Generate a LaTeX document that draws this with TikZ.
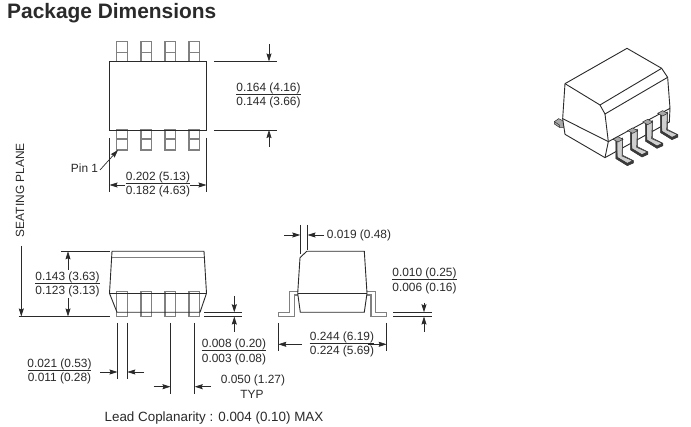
\documentclass[tikz,border=0pt]{standalone}
\usepackage{fontspec}
\setmainfont{Liberation Sans}
\usetikzlibrary{arrows.meta}
\definecolor{ink}{HTML}{2A2A2A}
\definecolor{pingray}{HTML}{808080}
\definecolor{leadgray}{HTML}{A8A8A8}
\definecolor{leadlight}{HTML}{CFCFCF}
\definecolor{leaddark}{HTML}{3A3A3A}
\tikzset{
  dimtxt/.style={text=ink,font=\fontsize{11.9}{12}\selectfont,inner sep=0pt,anchor=center,yshift=-0.7pt},
  dimline/.style={ink,line width=0.7pt},
  dimarrow/.style={ink,line width=0.7pt,-{Stealth[length=8pt,width=5pt,inset=1pt]}},
  bodyline/.style={ink,line width=0.9pt},
  pinline/.style={pingray,line width=1.1pt},
  lead3d/.style={ink,line width=0.5pt},
}
\newcommand{\dimfrac}[6]{% name,cx,ytop,ybot,text1,text2
  \node[dimtxt] (#1a) at (#2,#3) {#5};
  \node[dimtxt] (#1b) at (#2,#4) {#6};
  \draw[dimline] (#1b.north west |- 0,{#3+6.3}) -- (#1b.north east |- 0,{#3+6.3});
}
\begin{document}
\begin{tikzpicture}[x=1pt,y=-1pt]
\useasboundingbox (0,0) rectangle (691,427);
\fill[white] (0,0) rectangle (691,427);
\node[anchor=west,inner sep=0pt,text=ink,font=\bfseries\fontsize{20.9}{22}\selectfont] (title) at (7,13) {Package Dimensions};

% ---- top view
\foreach \x in {116.7,141,165,189}{
  \draw[pinline] (\x,41.7) rectangle (\x+10.6,61.5);
  \draw[pinline] (\x,52.7) -- (\x+10.6,52.7);
  \draw[pinline] (\x,130) rectangle (\x+10.6,150);
  \draw[pinline] (\x,139) -- (\x+10.6,139);
}
\draw[bodyline] (109.5,61.5) rectangle (206.5,130);
\draw[dimline] (214,61.5) -- (277,61.5);
\draw[dimline] (214,130) -- (277,130);
\draw[dimarrow] (269,44) -- (269,61.5);
\draw[dimarrow] (269,147) -- (269,130);
\dimfrac{a}{268.5}{88}{102}{0.164 (4.16)}{0.144 (3.66)}
\node[dimtxt] (pinone) at (84.5,167) {Pin 1};
\draw[dimarrow] (100,170) -- (118,150);
\draw[dimline] (109.5,138) -- (109.5,192);
\draw[dimline] (206.5,138) -- (206.5,192);
\draw[dimarrow] (125,185) -- (109.5,185);
\draw[dimarrow] (190,185) -- (206.5,185);
\dimfrac{b}{158}{177}{191}{0.202 (5.13)}{0.182 (4.63)}
\node[dimtxt,rotate=90] (seat) at (20,189.5) {SEATING PLANE};

% ---- front view
\foreach \x in {116.7,141,165,189}{
  \draw[pinline] (\x,291.7) rectangle (\x+10.6,316.3);
}
\draw[bodyline] (112,251.3) -- (204,251.3) -- (206.5,293.3) -- (200,312.3) -- (117,312.3) -- (109.5,293.3) -- cycle;
\draw[bodyline] (109.5,293.3) -- (206.5,293.3);
\draw[pingray,line width=1.6pt] (112,257.7) -- (204,257.7);
\draw[dimline] (61,251.3) -- (110,251.3);
\draw[dimline] (18.5,316.5) -- (110,316.5);
\draw[dimarrow] (21.3,246) -- (21.3,316.5);
\draw[dimarrow] (68,270) -- (68,251.3);
\draw[dimarrow] (68,298) -- (68,316.5);
\dimfrac{c}{67.5}{277}{291}{0.143 (3.63)}{0.123 (3.13)}
\draw[dimline] (204,312.3) -- (242,312.3);
\draw[dimline] (204,316.5) -- (242,316.5);
\draw[dimarrow] (234.3,296) -- (234.3,312.3);
\draw[dimarrow] (234.3,332) -- (234.3,316.5);
\dimfrac{d}{234}{344}{359}{0.008 (0.20)}{0.003 (0.08)}
\draw[dimline] (117.5,323) -- (117.5,379);
\draw[dimline] (127.3,323) -- (127.3,379);
\draw[dimarrow] (100,372) -- (117.5,372);
\draw[dimarrow] (144,372) -- (127.3,372);
\dimfrac{e}{59.5}{364}{378}{0.021 (0.53)}{0.011 (0.28)}
\draw[dimline] (170.5,323) -- (170.5,394);
\draw[dimline] (194.7,323) -- (194.7,394);
\draw[dimarrow] (153.5,386.7) -- (170.5,386.7);
\draw[dimarrow] (211,386.7) -- (194.7,386.7);
\node[dimtxt] (pitch) at (253,380) {0.050 (1.27)};
\node[dimtxt] (typ) at (252,394) {TYP};
\node[dimtxt,font=\fontsize{13.4}{14}\selectfont] (lead) at (214,417) {Lead Coplanarity : 0.004 (0.10) MAX};

% ---- side view
\draw[pinline] (297.7,291.3) -- (289.3,291.3) -- (289.3,312.3) -- (278.3,312.3) -- (278.3,316.3) -- (294.7,316.3) -- (294.7,295) -- (297.7,295);
\draw[pinline] (367,291.3) -- (375.7,291.3) -- (375.7,312.3) -- (386.7,312.3) -- (386.7,316.3) -- (371,316.3) -- (371,295) -- (367,295);
\draw[bodyline] (306.7,251.3) -- (364.3,251.3) -- (367,293.3) -- (364.3,312.3) -- (300.3,312.3) -- (297.7,293.3) -- (300,257.7) -- cycle;
\draw[bodyline] (297.7,293.3) -- (367,293.3);
\draw[dimline] (300.3,225) -- (300.3,254);
\draw[dimline] (307.5,225) -- (307.5,250);
\draw[dimarrow] (284,235) -- (300.3,235);
\draw[dimarrow] (324,235) -- (307.5,235);
\node[dimtxt] (chamfer) at (359,235) {0.019 (0.48)};
\draw[dimline] (393,312.3) -- (432,312.3);
\draw[dimline] (393,316.5) -- (432,316.5);
\draw[dimarrow] (424,303) -- (424,312.3);
\draw[dimarrow] (424,332) -- (424,316.5);
\dimfrac{f}{424.5}{273}{288}{0.010 (0.25)}{0.006 (0.16)}
\draw[dimline] (278.3,323) -- (278.3,351);
\draw[dimline] (386.7,323) -- (386.7,351);
\draw[dimarrow] (302,344.3) -- (278.3,344.3);
\draw[dimarrow] (368,344.3) -- (386.7,344.3);
\dimfrac{g}{342}{337}{351}{0.244 (6.19)}{0.224 (5.69)}

% ---- 3D view (coordinates from 3x zoom with origin 540,40)
\begin{scope}[shift={(540,40)},x=0.3333pt,y=-0.3333pt]
  % left stub lead
  \draw[lead3d,fill=leadgray] (43,245) -- (56,236) -- (72,244) -- (72,262) -- (58,262) -- (43,252) -- cycle;
  \draw[lead3d] (43,245) -- (58,255) -- (58,262);
  % body
  \draw[bodyline,fill=white] (75,131) -- (261,25) -- (365,85) -- (383,112) -- (390,205) -- (388,246) -- (195,353) -- (75,283) -- (68,236) -- cycle;
  \draw[bodyline] (75,131) -- (180,195) -- (365,85);
  \draw[bodyline] (180,195) -- (195,222) -- (383,112);
  \draw[bodyline] (195,222) -- (205,305) -- (195,353);
  \draw[bodyline] (68,236) -- (205,305) -- (390,205);
  % leads
  \foreach \dx/\dy in {134/-78,89/-52,44/-26,0/0}{
    \begin{scope}[shift={(\dx,\dy)}]
      \draw[lead3d,fill=leadgray] (228,304) -- (248,294) -- (248,346) -- (280,362) -- (280,369) -- (262,377) -- (228,356) -- cycle;
      \draw[lead3d,fill=leadlight] (228,304) -- (248,296) -- (246,348) -- (278,362) -- (262,370) -- (232,352) -- cycle;
      \fill[leaddark] (228,304) -- (232,304) -- (232,352) -- (262,370) -- (280,362) -- (280,369) -- (262,377) -- (228,356) -- cycle;
      \draw[lead3d,fill=leadgray] (219,298) -- (234,290) -- (249,298) -- (234,306) -- cycle;
    \end{scope}
  }
\end{scope}
\end{tikzpicture}
\end{document}
